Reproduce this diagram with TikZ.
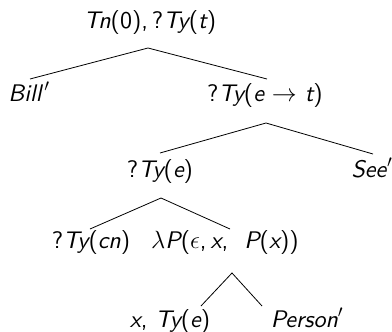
\documentclass[tikz,border=0pt]{standalone}
\usepackage{fontspec}
\setsansfont{lmsans10-regular.otf}[ItalicFont=lmsans10-oblique.otf]
\newcommand\sx[1]{{\itshape #1}}
\begin{document}
\begin{tikzpicture}[x=1pt,y=-1pt,
  lbl/.style={anchor=base,inner sep=0pt,font=\fontsize{24}{28}\selectfont\sffamily},
  edge/.style={line width=0.8pt}]
\useasboundingbox (0,0) rectangle (392,332);
\node[lbl] (root) at (150,28) {\sx{Tn}(0),\,?\sx{Ty}(\sx{t})};
\node[lbl] (bill) at (29,101) {\sx{Bill\/}\kern1pt$'$};
\node[lbl] (ety) at (265,101) {?\sx{Ty}(\sx{e} $\rightarrow$ \sx{t})};
\node[lbl] (te) at (160,177) {?\sx{Ty}(\sx{e})};
\node[lbl] (see) at (372,177) {\sx{See\/}$'$};
\node[lbl] (cn) at (91,248) {?\sx{Ty}(\sx{cn})};
\node[lbl] (lam) at (225,248) {$\lambda$\sx{P}($\epsilon$,\,\sx{x},\ \ \sx{P}(\sx{x}))};
\node[lbl] (xte) at (170,327) {\sx{x}, \sx{Ty}(\sx{e})};
\node[lbl] (person) at (307,327) {\sx{Person\/}$'$};
\draw[edge] ([xshift=1pt,yshift=22pt]bill.base) -- ([xshift=-2pt,yshift=-20pt]root.base) -- ([xshift=2pt,yshift=22pt]ety.base);
\draw[edge] ([yshift=24pt]te.base) -- ([xshift=1pt,yshift=-22pt]ety.base) -- ([xshift=1pt,yshift=23pt]see.base);
\draw[edge] ([xshift=-1pt,yshift=19pt]cn.base) -- ([xshift=1pt,yshift=-21pt]te.base) -- ([xshift=5pt,yshift=19pt]lam.base);
\draw[edge] ([xshift=31pt,yshift=21pt]xte.base) -- ([xshift=7pt,yshift=-25pt]lam.base) -- ([xshift=-45pt,yshift=21pt]person.base);
\end{tikzpicture}
\end{document}
